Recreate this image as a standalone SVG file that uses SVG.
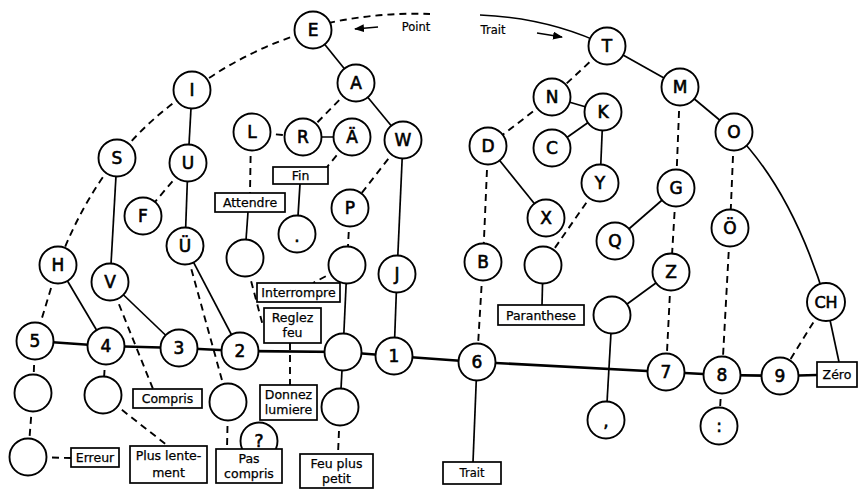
<svg xmlns="http://www.w3.org/2000/svg" width="858" height="489" viewBox="0 0 858 489">
<style>
.n{fill:#fff;stroke:#000;stroke-width:1.9}
.bx{fill:#fff;stroke:#000;stroke-width:1.7}
.s{fill:none;stroke:#000;stroke-width:1.7}
.d{fill:none;stroke:#000;stroke-width:1.9;stroke-dasharray:7 5}
.base{fill:none;stroke:#000;stroke-width:2.7}
.t{font-family:"DejaVu Sans",sans-serif;font-size:17px;text-anchor:middle;fill:#000;stroke:#000;stroke-width:0.6}
.b{font-family:"DejaVu Sans",sans-serif;font-size:12.5px;text-anchor:middle;fill:#000;stroke:#000;stroke-width:0.25}
.sm{font-family:"DejaVu Sans",sans-serif;font-size:11.5px;text-anchor:middle;fill:#000;stroke:#000;stroke-width:0.2}
</style>
<defs>
<marker id="ah" markerWidth="10" markerHeight="8" refX="9" refY="4" orient="auto" markerUnits="userSpaceOnUse">
<path d="M0,0 L10,4 L0,8 Z" fill="#000"/>
</marker>
</defs>
<g id="connectors">
<polyline class="base" points="35,341 106,346 179,348 240,351 343,352 394,356 477,362 666,372 722,375 780,376 817,375"/>
<path class="s" d="M313,30 L356,83"/>
<path class="s" d="M192,90 L188,163"/>
<path class="s" d="M117,158 L110,282"/>
<path class="s" d="M58,265 L106,346"/>
<path class="s" d="M110,282 L179,348"/>
<path class="s" d="M188,163 L185,246"/>
<path class="s" d="M185,246 L240,351"/>
<path class="s" d="M356,83 L403,140"/>
<path class="s" d="M303,137 L352,137"/>
<path class="s" d="M300,184 L298,216"/>
<path class="s" d="M248,212 L246,240"/>
<path class="s" d="M347,265 L343,352"/>
<path class="s" d="M343,352 L340,407"/>
<path class="s" d="M403,140 L397,274"/>
<path class="s" d="M397,274 L394,356"/>
<path class="s" d="M607,46 L680,87"/>
<path class="s" d="M680,87 L734,132"/>
<path class="s" d="M552,97 L603,112"/>
<path class="s" d="M603,112 L552,148"/>
<path class="s" d="M603,112 L600,183"/>
<path class="s" d="M488,146 L546,218"/>
<path class="s" d="M543,265 L542,305"/>
<path class="s" d="M477,362 L473,462"/>
<path class="s" d="M676,188 L615,241"/>
<path class="s" d="M671,272 L612,315"/>
<path class="s" d="M612,315 L606,420"/>
<path class="s" d="M734,132 Q792,190 826,302"/>
<path class="s" d="M830,320 L839,362"/>
<path class="s" d="M480,15 Q550,18 607,46"/>
<path class="d" d="M313,30 Q247,49 192,90"/>
<path class="d" d="M192,90 Q149,118 117,158"/>
<path class="d" d="M117,158 Q80,205 58,265"/>
<path class="d" d="M58,265 L35,341"/>
<path class="d" d="M328,23 Q380,12 430,14"/>
<path class="d" d="M188,163 L143,216"/>
<path class="d" d="M110,282 L153,389"/>
<path class="d" d="M185,246 L228,402"/>
<path class="d" d="M228,402 L227,449"/>
<path class="d" d="M35,341 L33,393"/>
<path class="d" d="M33,393 L28,457"/>
<path class="d" d="M28,457 L71,458"/>
<path class="d" d="M106,346 L103,395"/>
<path class="d" d="M103,395 L168,446"/>
<path class="d" d="M356,83 L303,137"/>
<path class="d" d="M252,132 L303,137"/>
<path class="d" d="M352,137 L327,167"/>
<path class="d" d="M251,132 L250,193"/>
<path class="d" d="M245,258 L263,326"/>
<path class="d" d="M290,343 L290,385"/>
<path class="d" d="M403,140 L350,208"/>
<path class="d" d="M350,208 L347,265"/>
<path class="d" d="M347,265 L313,283"/>
<path class="d" d="M340,407 L338,454"/>
<path class="d" d="M607,46 L552,97"/>
<path class="d" d="M552,97 L488,146"/>
<path class="d" d="M488,146 L483,262"/>
<path class="d" d="M483,262 L477,362"/>
<path class="d" d="M600,183 L543,265"/>
<path class="d" d="M680,87 L676,188"/>
<path class="d" d="M676,188 L671,272"/>
<path class="d" d="M671,272 L666,372"/>
<path class="d" d="M734,132 L730,228"/>
<path class="d" d="M730,228 L722,375"/>
<path class="d" d="M722,375 L719,426"/>
<path class="d" d="M826,302 L780,376"/>
<line class="s" x1="378" y1="27" x2="355" y2="29" marker-end="url(#ah)"/>
<line class="s" x1="537" y1="33" x2="562" y2="37" marker-end="url(#ah)"/>
</g>
<g id="labels">
<text class="sm" x="416" y="31">Point</text>
<text class="sm" x="493" y="34">Trait</text>
</g>
<g id="nE"><circle class="n" cx="313" cy="30" r="18.5"/><text class="t" x="313" y="36">E</text></g>
<g id="nA"><circle class="n" cx="356" cy="83" r="18.5"/><text class="t" x="356" y="89">A</text></g>
<g id="nR"><circle class="n" cx="303" cy="137" r="18.5"/><text class="t" x="303" y="143">R</text></g>
<g id="nAe"><circle class="n" cx="352" cy="137" r="18.5"/><text class="t" x="352" y="143">Ä</text></g>
<g id="nW"><circle class="n" cx="403" cy="140" r="18.5"/><text class="t" x="403" y="146">W</text></g>
<g id="nL"><circle class="n" cx="252" cy="132" r="18.5"/><text class="t" x="252" y="138">L</text></g>
<g id="nI"><circle class="n" cx="192" cy="90" r="18.5"/><text class="t" x="192" y="96">I</text></g>
<g id="nS"><circle class="n" cx="117" cy="158" r="18.5"/><text class="t" x="117" y="164">S</text></g>
<g id="nU"><circle class="n" cx="188" cy="163" r="18.5"/><text class="t" x="188" y="169">U</text></g>
<g id="nF"><circle class="n" cx="143" cy="216" r="18.5"/><text class="t" x="143" y="222">F</text></g>
<g id="nUe"><circle class="n" cx="185" cy="246" r="18.5"/><text class="t" x="185" y="252">Ü</text></g>
<g id="nH"><circle class="n" cx="58" cy="265" r="18.5"/><text class="t" x="58" y="271">H</text></g>
<g id="nV"><circle class="n" cx="110" cy="282" r="18.5"/><text class="t" x="110" y="288">V</text></g>
<g id="n5"><circle class="n" cx="35" cy="341" r="18.5"/><text class="t" x="35" y="347">5</text></g>
<g id="n4"><circle class="n" cx="106" cy="346" r="18.5"/><text class="t" x="106" y="352">4</text></g>
<g id="n3"><circle class="n" cx="179" cy="348" r="18.5"/><text class="t" x="179" y="354">3</text></g>
<g id="n2"><circle class="n" cx="240" cy="351" r="18.5"/><text class="t" x="240" y="357">2</text></g>
<g id="nCentral"><circle class="n" cx="343" cy="352" r="18.5"/></g>
<g id="n1"><circle class="n" cx="394" cy="356" r="18.5"/><text class="t" x="394" y="362">1</text></g>
<g id="n6"><circle class="n" cx="477" cy="362" r="18.5"/><text class="t" x="477" y="368">6</text></g>
<g id="n7"><circle class="n" cx="666" cy="372" r="18.5"/><text class="t" x="666" y="378">7</text></g>
<g id="n8"><circle class="n" cx="722" cy="375" r="18.5"/><text class="t" x="722" y="381">8</text></g>
<g id="n9"><circle class="n" cx="780" cy="376" r="18.5"/><text class="t" x="780" y="382">9</text></g>
<g id="nCH"><circle class="n" cx="826" cy="302" r="19"/><text class="t" x="826" y="308" style="font-size:16px">CH</text></g>
<g id="nColon"><circle class="n" cx="719" cy="426" r="18.5"/><text class="t" x="719" y="432">:</text></g>
<g id="nComma"><circle class="n" cx="606" cy="420" r="18.5"/><text class="t" x="606" y="427">,</text></g>
<g id="nBlankComma"><circle class="n" cx="612" cy="315" r="18.5"/></g>
<g id="nZ"><circle class="n" cx="671" cy="272" r="18.5"/><text class="t" x="671" y="278">Z</text></g>
<g id="nQ"><circle class="n" cx="615" cy="241" r="18.5"/><text class="t" x="615" y="247">Q</text></g>
<g id="nG"><circle class="n" cx="676" cy="188" r="18.5"/><text class="t" x="676" y="194">G</text></g>
<g id="nOe"><circle class="n" cx="730" cy="228" r="18.5"/><text class="t" x="730" y="234">Ö</text></g>
<g id="nO"><circle class="n" cx="734" cy="132" r="18.5"/><text class="t" x="734" y="138">O</text></g>
<g id="nM"><circle class="n" cx="680" cy="87" r="18.5"/><text class="t" x="680" y="93">M</text></g>
<g id="nT"><circle class="n" cx="607" cy="46" r="18.5"/><text class="t" x="607" y="52">T</text></g>
<g id="nK"><circle class="n" cx="603" cy="112" r="18.5"/><text class="t" x="603" y="118">K</text></g>
<g id="nN"><circle class="n" cx="552" cy="97" r="18.5"/><text class="t" x="552" y="103">N</text></g>
<g id="nC"><circle class="n" cx="552" cy="148" r="18.5"/><text class="t" x="552" y="154">C</text></g>
<g id="nD"><circle class="n" cx="488" cy="146" r="18.5"/><text class="t" x="488" y="152">D</text></g>
<g id="nX"><circle class="n" cx="546" cy="218" r="18.5"/><text class="t" x="546" y="224">X</text></g>
<g id="nY"><circle class="n" cx="600" cy="183" r="18.5"/><text class="t" x="600" y="189">Y</text></g>
<g id="nBlankPar"><circle class="n" cx="543" cy="265" r="18.5"/></g>
<g id="nB"><circle class="n" cx="483" cy="262" r="18.5"/><text class="t" x="483" y="268">B</text></g>
<g id="nJ"><circle class="n" cx="397" cy="274" r="18.5"/><text class="t" x="397" y="280">J</text></g>
<g id="nP"><circle class="n" cx="350" cy="208" r="18.5"/><text class="t" x="350" y="214">P</text></g>
<g id="nBlankP"><circle class="n" cx="347" cy="265" r="18.5"/></g>
<g id="nDot"><circle class="n" cx="297" cy="234" r="18.5"/><text class="t" x="297" y="242">.</text></g>
<g id="nBlankAtt"><circle class="n" cx="245" cy="258" r="18.5"/></g>
<g id="nBlankPas"><circle class="n" cx="228" cy="402" r="18.5"/></g>
<g id="nQuestion"><circle class="n" cx="259" cy="441" r="18.5"/><text class="t" x="259" y="447">?</text></g>
<g id="nBlank5"><circle class="n" cx="33" cy="393" r="18.5"/></g>
<g id="nBlankErr"><circle class="n" cx="28" cy="457" r="18.5"/></g>
<g id="nBlank4"><circle class="n" cx="103" cy="395" r="18.5"/></g>
<g id="nBlankFeu"><circle class="n" cx="340" cy="407" r="18.5"/></g>
<g id="bFin"><rect class="bx" x="273" y="167" width="55" height="17"/><text class="b" x="300.5" y="180">Fin</text></g>
<g id="bAttendre"><rect class="bx" x="215" y="193" width="70" height="19"/><text class="b" x="250" y="207">Attendre</text></g>
<g id="bInterrompre"><rect class="bx" x="257" y="283" width="83" height="19"/><text class="b" x="298.5" y="297">Interrompre</text></g>
<g id="bReglez"><rect class="bx" x="264" y="308" width="57" height="35"/><text class="b" x="292.5" y="322">Reglez</text><text class="b" x="292.5" y="337">feu</text></g>
<g id="bDonnez"><rect class="bx" x="260" y="385" width="57" height="35"/><text class="b" x="288.5" y="399">Donnez</text><text class="b" x="288.5" y="414">lumiere</text></g>
<g id="bPas"><rect class="bx" x="216" y="449" width="66" height="34"/><text class="b" x="249" y="463">Pas</text><text class="b" x="249" y="478">compris</text></g>
<g id="bFeu"><rect class="bx" x="300" y="454" width="73" height="34"/><text class="b" x="336.5" y="468">Feu plus</text><text class="b" x="336.5" y="483">petit</text></g>
<g id="bCompris"><rect class="bx" x="133" y="389" width="69" height="19"/><text class="b" x="167.5" y="403">Compris</text></g>
<g id="bErreur"><rect class="bx" x="71" y="448" width="48" height="19"/><text class="b" x="95" y="462">Erreur</text></g>
<g id="bPlus"><rect class="bx" x="130" y="446" width="77" height="37"/><text class="b" x="168.5" y="460">Plus lente-</text><text class="b" x="168.5" y="477">ment</text></g>
<g id="bParanthese"><rect class="bx" x="498" y="305" width="86" height="20"/><text class="b" x="541" y="320">Paranthese</text></g>
<g id="bTrait"><rect class="bx" x="443" y="462" width="58" height="22"/><text class="sm" x="472" y="477">Trait</text></g>
<g id="bZero"><rect class="bx" x="817" y="362" width="40" height="25"/><text class="b" x="837" y="379">Zéro</text></g>
</svg>
